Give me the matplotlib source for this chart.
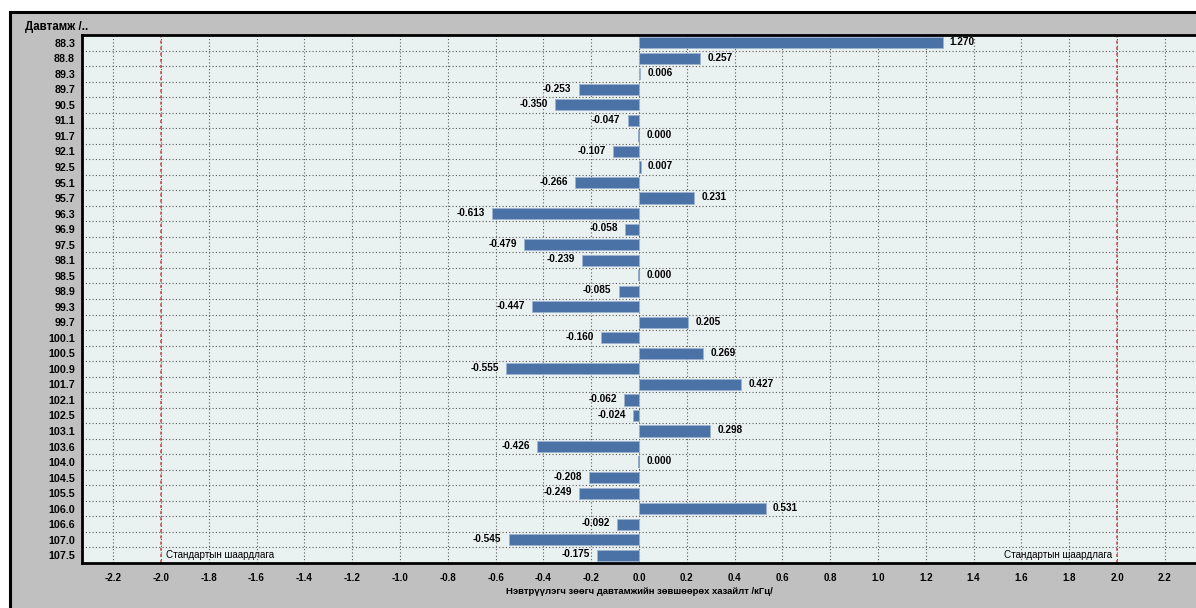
import matplotlib
matplotlib.use("Agg")
import matplotlib.pyplot as plt
from matplotlib.patches import Rectangle
import numpy as np

plt.rcParams["font.family"] = ["Liberation Sans", "DejaVu Sans"]

freqs = ["88.3", "88.8", "89.3", "89.7", "90.5", "91.1", "91.7", "92.1", "92.5",
         "95.1", "95.7", "96.3", "96.9", "97.5", "98.1", "98.5", "98.9", "99.3",
         "99.7", "100.1", "100.5", "100.9", "101.7", "102.1", "102.5", "103.1",
         "103.6", "104.0", "104.5", "105.5", "106.0", "106.6", "107.0", "107.5"]
deviation = [1.270, 0.257, 0.006, -0.253, -0.350, -0.047, 0.000, -0.107, 0.007,
             -0.266, 0.231, -0.613, -0.058, -0.479, -0.239, 0.000, -0.085, -0.447,
             0.205, -0.160, 0.269, -0.555, 0.427, -0.062, -0.024, 0.298,
             -0.426, 0.000, -0.208, -0.249, 0.531, -0.092, -0.545, -0.175]
limit = 2.0
xticks = np.round(np.arange(-2.2, 2.21, 0.2), 1)

BAR = "#4a72a6"
PANEL = "#c0c0c0"
PLOTBG = "#eaf1f1"
BAR_H = 0.72

fig = plt.figure(figsize=(11.96, 6.08), dpi=100)
fig.patch.set_facecolor("white")
# gray panel with black frame
fig.add_artist(Rectangle((10 / 1196, -0.05), 1.2, 1 - 12 / 608 + 0.05,
                         transform=fig.transFigure, facecolor=PANEL,
                         edgecolor="black", linewidth=2.2, zorder=0))

ax = fig.add_axes([82 / 1196, 1 - 563 / 608, 1 - 82 / 1196, (563 - 35) / 608])
ax.set_facecolor(PLOTBG)

y = np.arange(len(freqs))
vals = np.array(deviation)
ax.barh(y, vals, height=BAR_H, color=BAR, edgecolor="#9db3cf",
        linewidth=0.6, zorder=3)
# zero-length bars still show as a thin stroke
zero = vals == 0
ax.vlines(vals[zero], y[zero] - BAR_H / 2, y[zero] + BAR_H / 2,
          color="#7f98bb", linewidth=1.2, zorder=3)

for yi, v in zip(y, deviation):
    if v < 0:
        ax.text(v - 0.03, yi - 0.05, f"{v:.3f}", ha="right", va="center",
                fontsize=7.2, fontweight="bold", zorder=4)
    else:
        ax.text(v + 0.03, yi - 0.05, f"{v:.3f}", ha="left", va="center",
                fontsize=7.2, fontweight="bold", zorder=4)

for s in (-limit, limit):
    ax.axvline(s, color="#c04848", linestyle=(0, (2, 2)), linewidth=1.1, zorder=2)
ax.text(-limit + 0.02, y[-1], "Стандартын шаардлага", ha="left", va="center",
        fontsize=7.1, zorder=4)
ax.text(limit - 0.02, y[-1], "Стандартын шаардлага", ha="right", va="center",
        fontsize=7.1, zorder=4)

ax.set_xlim(-2.33, 2.33)
ax.set_ylim(len(freqs) - 0.5, -0.5)
ax.set_xticks(xticks)
ax.set_xticklabels([f"{t:.1f}" for t in xticks], fontsize=7, fontweight="bold")
ax.set_yticks(y)
ax.set_yticklabels(freqs, fontsize=7.7, fontweight="bold")
ax.set_yticks(np.arange(0.5, len(freqs) - 0.5, 1.0), minor=True)
ax.tick_params(axis="both", which="both", length=0)
ax.tick_params(axis="x", pad=7)
ax.tick_params(axis="y", pad=5)
ax.grid(axis="x", which="major", color="#5a5a5a", linestyle=(0, (1, 2)), linewidth=0.8, zorder=1)
ax.grid(axis="y", which="minor", color="#5a5a5a", linestyle=(0, (1, 2)), linewidth=0.8, zorder=1)
ax.set_axisbelow(True)

for side in ("top", "bottom", "left"):
    ax.spines[side].set_linewidth(2)
    ax.spines[side].set_color("black")
ax.spines["right"].set_visible(False)

ax.set_xlabel("Нэвтрүүлэгч зөөгч давтамжийн зөвшөөрөх хазайлт /кГц/",
              fontsize=6.8, fontweight="bold", labelpad=3)
fig.text(25 / 1196, 1 - 27 / 608, "Давтамж /..", ha="left", va="center",
         fontsize=8.3, fontweight="bold")

fig.savefig("out.png", dpi=100)
